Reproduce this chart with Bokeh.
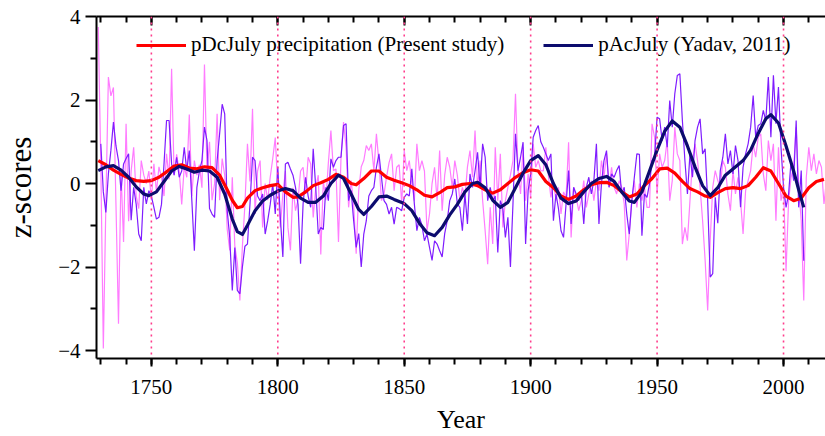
from bokeh.plotting import figure
from bokeh.models import (Range1d, LinearAxis, FixedTicker, Span, Legend, LegendItem,
                          ColumnDataSource, CustomJSTickFormatter)
from bokeh.embed import file_html
from bokeh.resources import INLINE

# ---------------- data ----------------
pdc_years = list(range(1729, 2018))
pdc = [
    3.75,
    0.5, -3.95, -0.5, 2.55, 2.1, 2.3, -0.5, -3.36, 0.3, -1.4,
    1.43, -0.9, 0.3, 0.87, -0.3, -0.6, 0.55, 0.2, 0.0, 0.3,
    -0.4, 0.47, -0.2, 0.4, 0.15, -0.3, 0.71, 0.1, 2.75, 0.2,
    0.7, 0.3, -0.5, 0.4, 0.15, 1.65, -0.3, 0.55, 0.2, 0.45,
    -0.1, 2.85, 0.3, 1.0, -0.4, 0.0, 1.67, -0.4, 0.6, 0.2,
    -1.1, -1.6, 0.15, -1.5, -1.9, -2.8, -1.5, -0.5, 0.95, 0.05,
    1.79, -0.73, 0.3, 0.55, -1.05, 0.0, -0.4, 0.15, 0.6, 1.1,
    -0.09, -1.05, -0.25, 0.3, -1.05, -1.6, -0.1, -0.65, -0.4, 0.3,
    0.39, -0.25, 0.63, 0.47, -0.81, -0.1, 0.2, -1.7, 0.07, -0.4,
    0.5, 1.27, 0.31, 0.35, -1.4, 0.63, 1.47, 0.87, -0.57, 0.07,
    -0.5, -1.68, -0.17, 0.4, 0.55, 0.91, 0.79, 0.95, 0.31, 1.19,
    0.5, -0.41, -0.25, 0.15, 0.5, 0.71, -0.17, 0.39, 0.45, -0.49,
    0.79, 0.31, 0.55, 0.0, -0.41, 0.95, 0.31, 0.55, 0.3, -1.13,
    -0.73, 0.0, 0.39, -0.41, 0.79, -0.65, 0.2, 0.63, 0.39, -0.09,
    0.55, 0.2, -0.41, -0.09, -0.33, 0.4, 0.79, 0.15, 1.27, -0.09,
    0.55, -0.4, -1.13, -1.93, -0.57, -1.45, 0.87, -0.41, 0.71, -1.05,
    -0.41, -0.09, 0.2, 0.55, 2.15, 0.31, -0.25, 0.87, -0.41, 0.23,
    -0.33, 0.95, 0.39, 0.55, 0.31, 0.3, 0.87, 0.2, -0.33, 0.07,
    -0.41, -0.09, -0.73, -0.2, -0.33, 0.99, -1.29, -0.1, -0.33, -0.65,
    -0.41, 0.07, -0.57, -0.25, 0.07, -0.41, 0.07, -0.17, 0.55, 0.15,
    0.71, -0.09, 0.39, -0.09, -0.25, 0.07, -0.09, -0.49, -1.84, -1.21,
    -0.41, 0.07, -0.57, 0.0, -0.41, -0.09, -0.57, -0.57, 1.43, 1.11,
    -0.25, 0.71, 0.39, 0.55, 1.03, -0.41, 0.07, 1.35, 0.71, 0.55,
    -1.45, -1.05, -1.37, -0.41, 0.55, 0.95, 0.55, -0.09, -0.89, -1.84,
    -3.04, -1.37, -0.09, 0.31, 0.07, -0.09, 0.55, 0.39, -0.25, -0.65,
    0.31, -0.25, 0.15, -0.41, -1.21, -0.17, 0.07, 0.31, 0.95, 0.63,
    1.11, 1.19, 0.23, -0.17, 1.03, 0.55, 0.95, -0.89, 0.87, -0.41,
    -0.09, -2.1, -0.41, 0.15, 0.39, 1.35, -0.09, -0.89, -2.8, 0.15,
    0.87, 0.31, 0.71, 0.23, 0.55, 0.39, -0.49, 0.1,
]

pac_years = list(range(1730, 2009))
pac = [
    0.95, -0.2, -0.69, 0.23, 0.8, 1.47, 0.9, 0.55, -0.17, 0.47,
    0.6, 0.71, -0.88, -0.09, -0.5, -1.21, -1.37, -0.09, -0.49, -0.17,
    -0.3, -0.57, -0.85, -0.81, -0.5, 0.47, 1.51, 1.51, 0.47, 0.2,
    0.63, 0.15, 0.3, 0.87, 0.31, 0.79, -0.4, -1.61, -0.09, 0.3,
    0.55, 1.35, 1.03, -0.6, -0.73, -0.81, 0.55, 1.2, 1.9, 1.67,
    -0.65, -1.3, -2.56, -1.53, -2.56, -2.64, -2.0, -1.5, -1.45, -0.49,
    0.63, 0.55, -0.3, -0.41, -0.25, -1.21, -0.89, -0.5, -0.01, -0.73,
    0.4, -0.81, -1.76, 0.47, 0.51, 0.35, 0.2, -0.09, -0.5, -1.92,
    -0.49, 0.15, -0.3, -0.57, 0.83, -0.09, -1.21, -1.05, -1.1, -0.09,
    -0.41, 0.59, 0.39, 0.55, 0.63, 0.63, 1.39, 1.43, -0.41, -0.17,
    -0.89, -1.53, -1.2, -2.0, -1.21, -0.89, -0.3, -0.17, -0.09, 0.39,
    0.71, 0.15, -0.41, -0.5, -0.73, -0.57, -0.97, -0.57, -0.6, -0.65,
    -0.33, -0.25, -0.3, 0.35, -0.49, -1.13, -0.81, -1.0, -1.37, -1.21,
    -1.53, -1.84, -1.37, -1.45, -1.61, -1.76, -1.2, -0.89, -0.41, -0.25,
    0.11, -0.49, -0.57, -1.13, -0.25, -0.97, 0.23, -0.09, 0.3, 0.75,
    -0.09, 0.95, 0.63, -0.41, -0.09, -0.41, -0.3, -1.65, -0.41, -0.6,
    -1.29, -0.81, -2.0, -0.49, 1.19, 0.31, 0.63, 0.99, -1.45, -0.17,
    0.23, 1.11, 1.27, 1.39, 1.0, 0.87, 0.71, 0.55, 0.71, -0.89,
    -0.25, -0.6, -1.13, -1.29, -0.49, 0.31, -0.97, -0.09, -0.25, -0.41,
    -0.17, -0.97, -0.09, 0.15, -0.25, 0.07, 0.95, -0.97, 0.0, 0.55,
    0.79, -0.09, 0.23, 0.15, 0.31, 0.43, -0.25, -0.09, -0.73, -1.21,
    -0.41, 0.15, 0.71, 0.7, -1.25, -0.25, -0.33, -0.01, 0.55, 0.63,
    1.59, 1.55, 1.03, 1.35, 0.87, 1.99, 1.35, 2.15, 2.59, 2.63,
    1.51, 0.55, -0.25, 0.71, 0.15, 1.03, 1.35, 1.55, 0.71, 0.83,
    -0.41, -2.24, -2.16, -0.33, -0.95, 0.31, 0.63, 1.19, 0.47, 0.79,
    0.23, 0.91, 0.55, -0.57, 0.39, 0.71, 0.95, 1.35, 2.11, 1.11,
    1.39, 1.43, 1.75, 1.5, 2.55, 1.11, 2.59, 1.43, 2.31, 0.87,
    -0.09, -0.57, -0.25, 0.55, 0.07, 1.51, -0.57, 0.31, -1.85,
]

pdc_smooth_years = [1729, 1732, 1735, 1738, 1741, 1744, 1747, 1750, 1753, 1756, 1759, 1762,
                    1765, 1768, 1771, 1774, 1777, 1780, 1782, 1784, 1786, 1788, 1791, 1794,
                    1797, 1800, 1803, 1806, 1808, 1811, 1814, 1817, 1820, 1823, 1826, 1829,
                    1831, 1834, 1837, 1840, 1843, 1846, 1849, 1852, 1855, 1858, 1861, 1864,
                    1867, 1870, 1873, 1876, 1879, 1882, 1885, 1888, 1891, 1894, 1897, 1900,
                    1903, 1906, 1909, 1912, 1915, 1918, 1921, 1924, 1927, 1930, 1933, 1936,
                    1939, 1942, 1945, 1948, 1951, 1954, 1957, 1960, 1963, 1966, 1969, 1971,
                    1974, 1977, 1980, 1983, 1986, 1989, 1992, 1995, 1998, 2001, 2004, 2007,
                    2010, 2013, 2016]
pdc_smooth = [0.55, 0.45, 0.32, 0.22, 0.13, 0.07, 0.05, 0.07, 0.15, 0.28, 0.42, 0.45,
              0.37, 0.35, 0.4, 0.38, 0.2, -0.15, -0.4, -0.58, -0.55, -0.35, -0.17, -0.1,
              -0.05, -0.02, -0.2, -0.33, -0.32, -0.2, -0.05, 0.02, 0.1, 0.22, 0.15, 0.0,
              -0.03, 0.12, 0.3, 0.3, 0.15, 0.08, 0.02, -0.05, -0.15, -0.28, -0.32, -0.22,
              -0.1, -0.08, -0.02, 0.0, -0.05, -0.15, -0.23, -0.15, 0.0, 0.15, 0.26, 0.33,
              0.3, 0.05, -0.1, -0.3, -0.38, -0.3, -0.15, -0.03, 0.02, 0.03, -0.05, -0.2,
              -0.32, -0.25, -0.05, 0.12, 0.35, 0.37, 0.25, 0.05, -0.12, -0.2, -0.3, -0.33,
              -0.22, -0.12, -0.1, -0.12, -0.05, 0.15, 0.38, 0.3, 0.0, -0.3, -0.41, -0.35,
              -0.1, 0.05, 0.1]

pac_smooth_years = [1729, 1732, 1735, 1738, 1741, 1744, 1747, 1749, 1752, 1755, 1758, 1761,
                    1764, 1767, 1770, 1773, 1776, 1779, 1782, 1784, 1786, 1788, 1791, 1794,
                    1797, 1800, 1803, 1806, 1809, 1812, 1815, 1818, 1821, 1824, 1826, 1829,
                    1832, 1834, 1837, 1840, 1843, 1846, 1850, 1853, 1856, 1859, 1862, 1865,
                    1868, 1871, 1874, 1877, 1879, 1882, 1885, 1888, 1891, 1894, 1897, 1900,
                    1903, 1906, 1909, 1912, 1915, 1918, 1921, 1924, 1927, 1930, 1933, 1936,
                    1939, 1941, 1944, 1947, 1950, 1953, 1956, 1959, 1962, 1965, 1968, 1971,
                    1974, 1977, 1980, 1984, 1987, 1990, 1993, 1995, 1998, 2001, 2004, 2006,
                    2008]
pac_smooth = [0.31, 0.4, 0.43, 0.32, 0.15, -0.08, -0.25, -0.29, -0.2, 0.05, 0.3, 0.41,
              0.35, 0.27, 0.32, 0.3, 0.15, -0.25, -0.85, -1.15, -1.22, -1.0, -0.65, -0.42,
              -0.28, -0.18, -0.12, -0.17, -0.35, -0.45, -0.45, -0.3, 0.0, 0.2, 0.12, -0.25,
              -0.62, -0.74, -0.55, -0.32, -0.3, -0.38, -0.48, -0.65, -0.95, -1.18, -1.25, -1.05,
              -0.75, -0.5, -0.2, 0.0, 0.03, -0.1, -0.4, -0.57, -0.45, -0.1, 0.25, 0.55,
              0.67, 0.45, 0.0, -0.35, -0.48, -0.42, -0.2, 0.0, 0.12, 0.17, 0.05, -0.2,
              -0.42, -0.45, -0.2, 0.3, 0.8, 1.25, 1.5, 1.35, 0.9, 0.4, -0.05, -0.29,
              -0.1, 0.2, 0.35, 0.55, 0.8, 1.2, 1.55, 1.65, 1.45, 0.9, 0.3, -0.15,
              -0.57]

x_major_ticks = [1750, 1800, 1850, 1900, 1950, 2000]
x_minor_ticks = list(range(1730, 2020, 10))
y_major_ticks = [-4, -2, 0, 2, 4]
y_minor_ticks = [-3, -1, 1, 3]
marker_years = [1750, 1800, 1850, 1900, 1950, 2000]

label_pdc = "pDcJuly precipitation (Present study)"
label_pac = "pAcJuly (Yadav, 2011)"

# ---------------- figure ----------------
FONT = "Liberation Serif"

p = figure(width=825, height=436, output_backend="svg", toolbar_location=None,
           x_range=Range1d(1728.3, 2016.6), y_range=Range1d(-4.19, 4.0),
           min_border_left=95, min_border_right=0, min_border_top=16, min_border_bottom=78)
p.outline_line_color = None
p.background_fill_color = "white"
p.border_fill_color = "white"
p.grid.visible = False

for yr in marker_years:
    p.add_layout(Span(location=yr, dimension="height", line_color="#ff3c8c",
                      line_width=1.6, line_dash="2 4"))

src_pdc = ColumnDataSource(dict(x=pdc_years, y=pdc))
src_pac = ColumnDataSource(dict(x=pac_years, y=pac))
src_pdc_s = ColumnDataSource(dict(x=pdc_smooth_years, y=pdc_smooth))
src_pac_s = ColumnDataSource(dict(x=pac_smooth_years, y=pac_smooth))

p.line("x", "y", source=src_pdc, line_color="#ff7cff", line_width=1.2)
p.line("x", "y", source=src_pac, line_color="#7f1cff", line_width=1.2)
r_red = p.line("x", "y", source=src_pdc_s, line_color="#ff0000", line_width=3.2,
               line_join="round")
r_navy = p.line("x", "y", source=src_pac_s, line_color="#0c0c6e", line_width=3.2,
                line_join="round")

# axes
xa = p.xaxis[0]
xa.ticker = FixedTicker(ticks=x_major_ticks, minor_ticks=x_minor_ticks)
ya = p.yaxis[0]
ya.ticker = FixedTicker(ticks=y_major_ticks, minor_ticks=y_minor_ticks)

for ax in (xa, ya):
    ax.axis_line_width = 2
    ax.axis_line_color = "black"
    ax.major_tick_line_width = 2
    ax.minor_tick_line_width = 2
    ax.major_tick_in = 0
    ax.minor_tick_in = 0
    ax.major_label_text_font = FONT
    ax.major_label_text_font_size = "21px"
    ax.major_label_text_color = "black"
    ax.axis_label_text_font = FONT
    ax.axis_label_text_font_style = "normal"
    ax.axis_label_text_color = "black"

xa.major_tick_out = 8
xa.minor_tick_out = 6
xa.major_label_standoff = 13
xa.axis_label = "Year"
xa.axis_label_text_font_size = "26px"
xa.axis_label_standoff = 8

ya.major_tick_out = 11
ya.minor_tick_out = 6
ya.major_label_standoff = 5
ya.axis_label = "z-scores"
ya.axis_label_text_font_size = "31px"
ya.axis_label_standoff = 17

top = LinearAxis(ticker=FixedTicker(ticks=x_major_ticks, minor_ticks=x_minor_ticks),
                 formatter=CustomJSTickFormatter(code="return ''"))
top.axis_line_width = 2
top.major_tick_line_width = 2
top.minor_tick_line_width = 2
top.major_tick_in = 9
top.major_tick_out = 0
top.minor_tick_in = 6
top.minor_tick_out = 0
top.major_label_standoff = 0
p.add_layout(top, "above")

legend = Legend(items=[LegendItem(label=label_pdc, renderers=[r_red]),
                       LegendItem(label=label_pac, renderers=[r_navy])],
                orientation="horizontal", location=(40, 301),
                glyph_width=50, glyph_height=20, label_standoff=5, spacing=39,
                padding=0, margin=0, border_line_color=None,
                background_fill_alpha=0,
                label_text_font=FONT, label_text_font_size="21px",
                label_text_color="black")
p.add_layout(legend, "center")

open("out.html", "w").write(file_html(p, INLINE))
